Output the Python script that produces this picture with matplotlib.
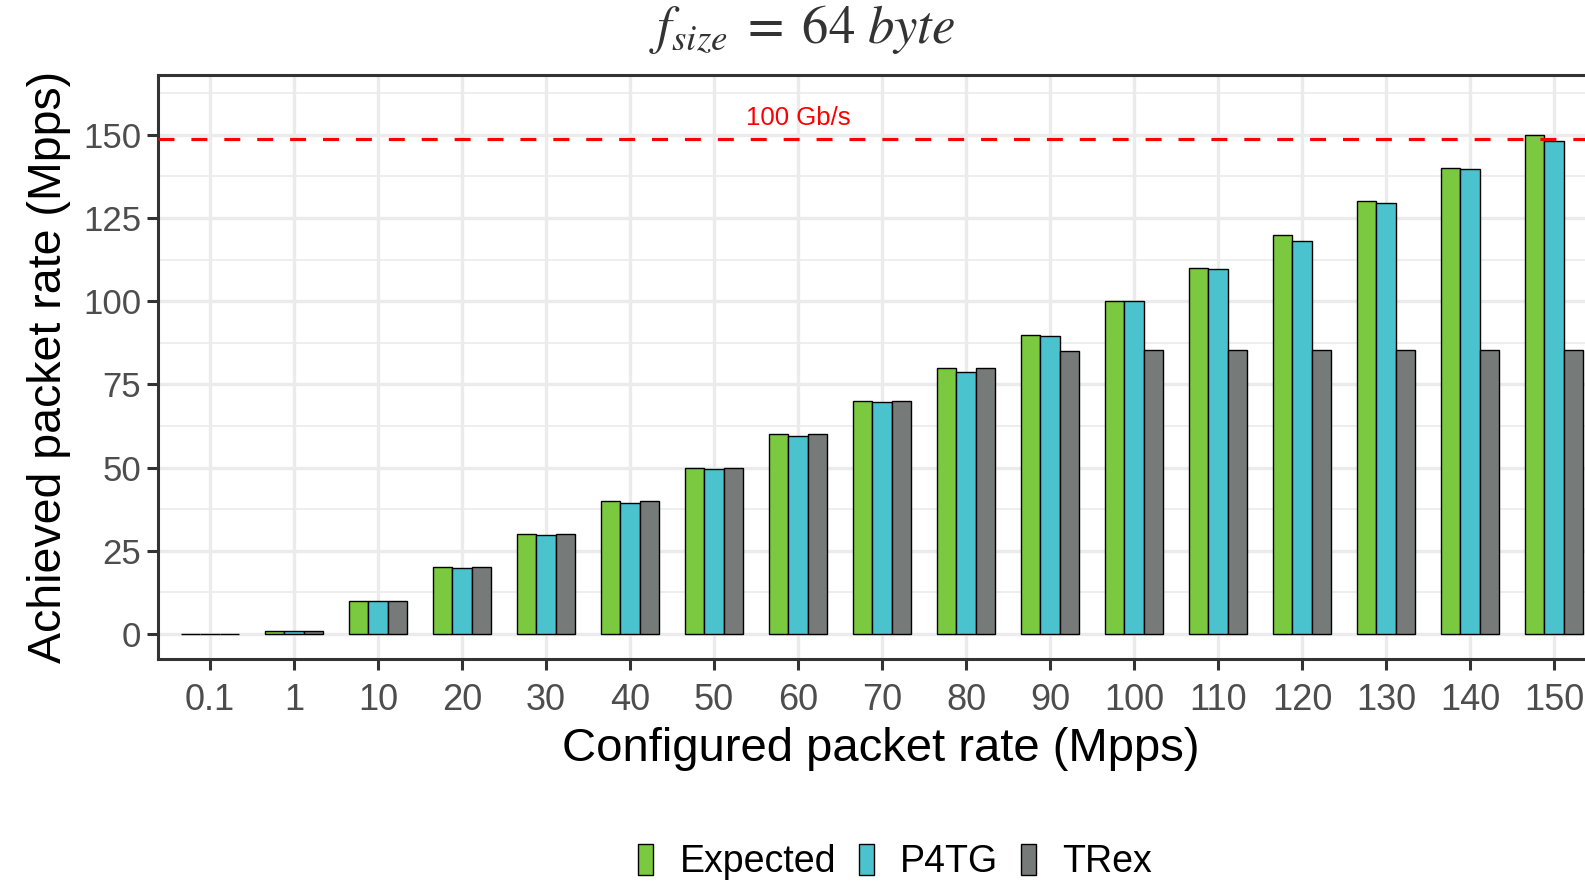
import numpy as np
import matplotlib
matplotlib.use("Agg")
import matplotlib.pyplot as plt
from matplotlib.patches import Rectangle

plt.rcParams['font.family'] = ['Liberation Sans', 'DejaVu Sans']
plt.rcParams['mathtext.fontset'] = 'stix'

# Data
categories = ["0.1", "1", "10", "20", "30", "40", "50", "60", "70", "80",
              "90", "100", "110", "120", "130", "140", "150"]
expected = [0.1, 1, 10, 20, 30, 40, 50, 60, 70, 80, 90, 100, 110, 120, 130, 140, 150]
p4tg = [0.1, 1, 10, 19.9, 29.9, 39.4, 49.7, 59.6, 69.7, 78.8, 89.7, 100.2, 109.6, 118.2, 129.6, 139.8, 148.1]
trex = [0.1, 1, 10, 20, 30, 40, 50, 60, 70, 80, 85.0, 85.5, 85.5, 85.5, 85.5, 85.5, 85.5]
line_rate = 148.8
series = [("Expected", expected, "#7AC93E"),
          ("P4TG", p4tg, "#4BC3CF"),
          ("TRex", trex, "#767B7A")]

fig = plt.figure(figsize=(15.85, 8.83), dpi=100)
ax = fig.add_axes([158 / 1585, 1 - 659 / 883, 1 - 158 / 1585, (659 - 75) / 883])

x = np.arange(len(categories))
w = 0.233
for i, (name, vals, col) in enumerate(series):
    ax.bar(x + (i - 1) * w, vals, width=w, color=col, edgecolor="black",
           linewidth=1.0, zorder=3, label=name)

ax.axhline(line_rate, color="#FF0000", linewidth=2.3, dashes=(5, 5.3), zorder=4)
ax.text(7, 155, "100 Gb/s", color="#FF0000", fontsize=18.5, ha="center", va="center", zorder=5)

ax.set_xlim(-0.62, 16.37)
ax.set_ylim(-7.5, 168)
ax.set_xticks(x)
ax.set_xticklabels(categories)
ax.set_yticks([0, 25, 50, 75, 100, 125, 150])
ax.set_yticks(np.arange(12.5, 168, 25), minor=True)

ax.grid(True, which="major", color="#EBEBEB", linewidth=2.4, zorder=0)
ax.grid(True, which="minor", axis="y", color="#EBEBEB", linewidth=1.2, zorder=0)
ax.set_axisbelow(True)

for s in ["left", "bottom", "top"]:
    ax.spines[s].set_color("#333333")
    ax.spines[s].set_linewidth(2.2)
ax.spines["right"].set_visible(False)

ax.tick_params(axis="both", which="major", length=8, width=2.2, color="#333333",
               labelcolor="#4D4D4D")
ax.tick_params(axis="x", which="major", labelsize=26, pad=9)
ax.tick_params(axis="y", which="major", labelsize=25, pad=4)
ax.tick_params(axis="both", which="minor", length=0)

ax.set_xlabel("Configured packet rate (Mpps)", fontsize=34, color="black")
ax.xaxis.set_label_coords((881 - 158) / (1585 - 158), -(749 - 659) / 584)
ax.xaxis.label.set_va("center")
ax.set_ylabel("Achieved packet rate (Mpps)", fontsize=33.5, color="black", labelpad=9)

fig.text(802 / 1585, 1 - 30 / 883, r"$f_{size}\;=\;64\ byte$", fontsize=38,
         color="#333333", ha="center", va="center")

handles = [Rectangle((0, 0), 1, 1, facecolor=c, edgecolor="black", linewidth=1.0)
           for _, _, c in series]
fig.legend(handles, [n for n, _, _ in series], loc="center",
           bbox_to_anchor=(895 / 1585, 1 - 862 / 883), ncol=3, frameon=False,
           fontsize=27, handlelength=0.4, handleheight=0.9, handletextpad=0.7,
           columnspacing=0.6)

fig.savefig("out.png", dpi=100, facecolor="white")
